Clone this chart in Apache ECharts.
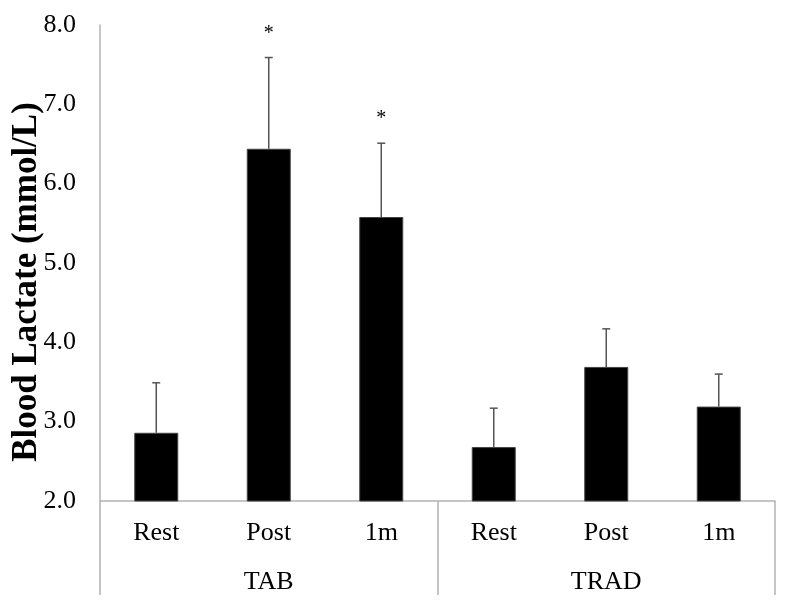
<!DOCTYPE html>
<html>
<head>
<meta charset="utf-8">
<script src="https://cdn.jsdelivr.net/npm/echarts@6/dist/echarts.min.js"></script>
<style>
  html, body { margin: 0; padding: 0; background: #fff; }
  #main { width: 790px; height: 612px; }
</style>
</head>
<body>
<div id="main"></div>
<script>
// data
const times = ['Rest', 'Post', '1m', 'Rest', 'Post', '1m'];
const groups = ['TAB', 'TRAD'];
const lactate = [2.86, 6.44, 5.58, 2.68, 3.69, 3.19];
const upperSD = [3.49, 7.59, 6.51, 3.17, 4.17, 3.60];
const signif = ['', '*', '*', '', '', ''];
const yTicks = [2, 3, 4, 5, 6, 7, 8];

const serif = 'Liberation Serif';
const axisGray = '#b3b3b3';

const errData = lactate.map((v, i) => [i, v, upperSD[i], signif[i]]);

function renderError(params, api) {
  const x = api.value(0);
  const low = api.coord([x, api.value(1)]);
  const high = api.coord([x, api.value(2)]);
  const cap = 4;
  const style = { stroke: '#555', lineWidth: 1.5 };
  const children = [
    { type: 'line', shape: { x1: low[0], y1: low[1], x2: high[0], y2: high[1] }, style: style },
    { type: 'line', shape: { x1: high[0] - cap, y1: high[1], x2: high[0] + cap, y2: high[1] }, style: style }
  ];
  const mark = errData[params.dataIndex][3];
  if (mark) {
    children.push({
      type: 'text',
      x: high[0], y: high[1] - 24,
      style: { text: mark, font: '20px ' + serif, fill: '#000', align: 'center', verticalAlign: 'middle' }
    });
  }
  return { type: 'group', children: children };
}

const chart = echarts.init(document.getElementById('main'));
chart.setOption({
  animation: false,
  grid: { left: 100, right: 15, top: 25, bottom: 111, containLabel: false, outerBoundsMode: 'none' },
  xAxis: [
    {
      type: 'category',
      data: times,
      position: 'bottom',
      axisLine: { lineStyle: { color: axisGray, width: 1.5 } },
      axisTick: {
        show: true, length: 94, interval: (i) => i % 3 === 0,
        lineStyle: { color: axisGray, width: 1.5 }
      },
      axisLabel: { color: '#000', fontFamily: serif, fontSize: 26, margin: 19, interval: 0 }
    },
    {
      type: 'category',
      data: groups,
      position: 'bottom',
      offset: 49,
      axisLine: { show: false },
      axisTick: { show: false },
      axisLabel: { color: '#000', fontFamily: serif, fontSize: 26, margin: 19 }
    }
  ],
  yAxis: {
    type: 'value',
    min: yTicks[0],
    max: yTicks[yTicks.length - 1],
    interval: 1,
    name: 'Blood Lactate (mmol/L)',
    nameLocation: 'middle',
    nameGap: 56,
    nameMoveOverlap: false,
    nameTextStyle: {
      color: '#000', fontFamily: serif, fontSize: 35, fontWeight: 'bold',
      padding: [0, 38, 0, 0]
    },
    axisLine: { show: true, lineStyle: { color: axisGray, width: 1.5 } },
    axisTick: { show: false },
    splitLine: { show: false },
    axisLabel: { color: '#000', fontFamily: serif, fontSize: 26, margin: 24, formatter: (v) => v.toFixed(1) }
  },
  series: [
    {
      type: 'bar',
      xAxisIndex: 0,
      data: lactate,
      barWidth: 44,
      itemStyle: { color: '#000', borderColor: '#444', borderWidth: 1 }
    },
    {
      type: 'custom',
      xAxisIndex: 0,
      renderItem: renderError,
      data: errData,
      z: 3
    }
  ]
});
</script>
</body>
</html>
